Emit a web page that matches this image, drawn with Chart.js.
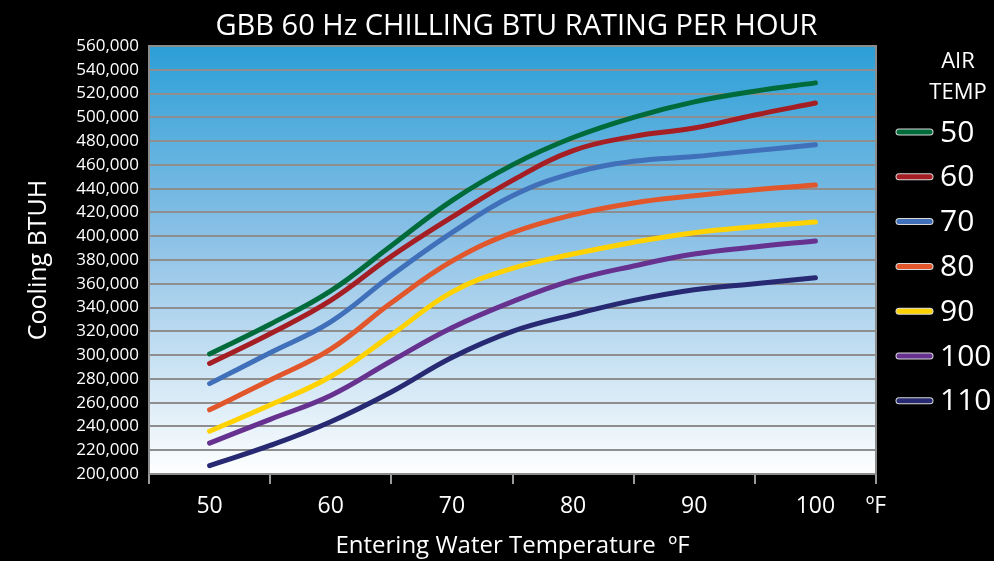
<!DOCTYPE html>
<html>
<head>
<meta charset="utf-8">
<style>
  html, body { margin: 0; padding: 0; background: #000; }
  #wrap { width: 994px; height: 561px; }
</style>
<script src="https://cdn.jsdelivr.net/npm/chart.js@4.4.0/dist/chart.umd.min.js"></script>
</head>
<body>
<div id="wrap"><canvas id="chart" width="994" height="561"></canvas></div>
<script>
const waterTemps = [50, 55, 60, 65, 70, 75, 80, 85, 90, 95, 100]
const airTemps = ['50', '60', '70', '80', '90', '100', '110']
const air50  = [301000, 326000, 354000, 392000, 430000, 460000, 483000, 500000, 513000, 522000, 529000]
const air60  = [293000, 318000, 346000, 383000, 416000, 447000, 472000, 484000, 491000, 502000, 512000]
const air70  = [276000, 302000, 328000, 367000, 403000, 434000, 453000, 463000, 467000, 472000, 477000]
const air80  = [254000, 279000, 305000, 344000, 379000, 403000, 418000, 428000, 434000, 439000, 443000]
const air90  = [236000, 258000, 282000, 317000, 353000, 373000, 385000, 395000, 403000, 408000, 412000]
const air100 = [226000, 246000, 266000, 295000, 323000, 345000, 363000, 375000, 385000, 391000, 396000]
const air110 = [207000, 224000, 244000, 269000, 298000, 320000, 334000, 346000, 355000, 360000, 365000]
const lineColors = ['#006b3a', '#a51e23', '#4070b9', '#e1562b', '#ffd200', '#66318f', '#272a72']

const series = [air50, air60, air70, air80, air90, air100, air110]
const FONT = "'Open Sans', sans-serif"

// black page, blue-to-white plot background, border round the plot, title and legend
const decor = {
	id: 'decor',
	beforeDraw(chart) {
		const {ctx, chartArea: a} = chart
		ctx.save()
		ctx.fillStyle = '#000'
		ctx.fillRect(0, 0, chart.width, chart.height)
		const g = ctx.createLinearGradient(0, a.top, 0, a.bottom)
		g.addColorStop(0, '#2b9fd7')
		g.addColorStop(0.45, '#8cc1e6')
		g.addColorStop(1, '#ffffff')
		ctx.fillStyle = g
		ctx.fillRect(a.left, a.top, a.right - a.left, a.bottom - a.top)
		ctx.restore()
	},
	afterDraw(chart) {
		const {ctx, chartArea: a} = chart
		ctx.save()
		ctx.strokeStyle = '#8c8c8c'
		ctx.lineWidth = 2
		ctx.strokeRect(a.left, a.top, a.right - a.left, a.bottom - a.top)

		ctx.fillStyle = '#fff'
		ctx.textAlign = 'center'
		ctx.textBaseline = 'middle'
		ctx.font = '29px ' + FONT
		ctx.fillText('GBB 60 Hz CHILLING BTU RATING PER HOUR', (a.left + a.right) / 2 + 4, 27)

		ctx.font = '22px ' + FONT
		ctx.fillText('AIR', 958, 62)
		ctx.fillText('TEMP', 958, 93)

		ctx.textAlign = 'left'
		ctx.font = '30px ' + FONT
		chart.data.datasets.forEach((ds, i) => {
			const y = 132 + i * 44.8
			ctx.lineCap = 'round'
			ctx.strokeStyle = '#d8d8d8'
			ctx.lineWidth = 7
			ctx.beginPath(); ctx.moveTo(899, y); ctx.lineTo(930, y); ctx.stroke()
			ctx.strokeStyle = ds.borderColor
			ctx.lineWidth = 5
			ctx.beginPath(); ctx.moveTo(899, y); ctx.lineTo(930, y); ctx.stroke()
			ctx.fillStyle = '#fff'
			ctx.fillText(ds.label, 940, y + 1)
		})
		ctx.restore()
	}
}

new Chart(document.getElementById('chart'), {
	type: 'line',
	data: {
		datasets: series.map((vals, i) => ({
			label: airTemps[i],
			data: vals.map((v, j) => ({x: waterTemps[j], y: v})),
			borderColor: lineColors[i],
			borderWidth: 5,
			borderCapStyle: 'round',
			tension: 0.4,
			pointRadius: 0,
			fill: false
		}))
	},
	options: {
		responsive: false,
		animation: false,
		layout: { padding: { top: 46, right: 118, left: 0, bottom: 0 } },
		plugins: {
			legend: { display: false },
			title: { display: false },
			tooltip: { enabled: false }
		},
		scales: {
			x: {
				type: 'linear',
				min: 45,
				max: 105,
				afterFit: s => { s.height = 87 },
				ticks: {
					stepSize: 5,
					autoSkip: false,
					maxRotation: 0,
					color: '#fff',
					padding: 9,
					font: { family: FONT, size: 23 },
					callback: v => v === 105 ? 'ºF' : (v % 10 === 0 ? String(v) : '')
				},
				grid: {
					drawOnChartArea: false,
					tickLength: 10,
					lineWidth: 2,
					tickColor: c => (c.tick && c.tick.value % 10 === 5) ? '#9a9a9a' : 'rgba(0,0,0,0)'
				},
				border: { color: '#8c8c8c', width: 2 },
				title: {
					display: true,
					text: 'Entering Water Temperature  ºF',
					color: '#fff',
					font: { family: FONT, size: 24 },
					padding: { top: 0, bottom: 0 }
				}
			},
			y: {
				min: 200000,
				max: 560000,
				afterFit: s => { s.width = 149 },
				ticks: {
					stepSize: 20000,
					color: '#fff',
					padding: 10,
					font: { family: FONT, size: 17 },
					callback: v => v.toLocaleString('en-US')
				},
				grid: {
					color: '#8e8e8e',
					lineWidth: 2,
					drawTicks: false
				},
				border: { color: '#8c8c8c', width: 2 },
				title: {
					display: true,
					text: 'Cooling BTUH',
					color: '#fff',
					font: { family: FONT, size: 25 },
					padding: { top: 24, bottom: 0 }
				}
			}
		}
	},
	plugins: [decor]
})
</script>
</body>
</html>
